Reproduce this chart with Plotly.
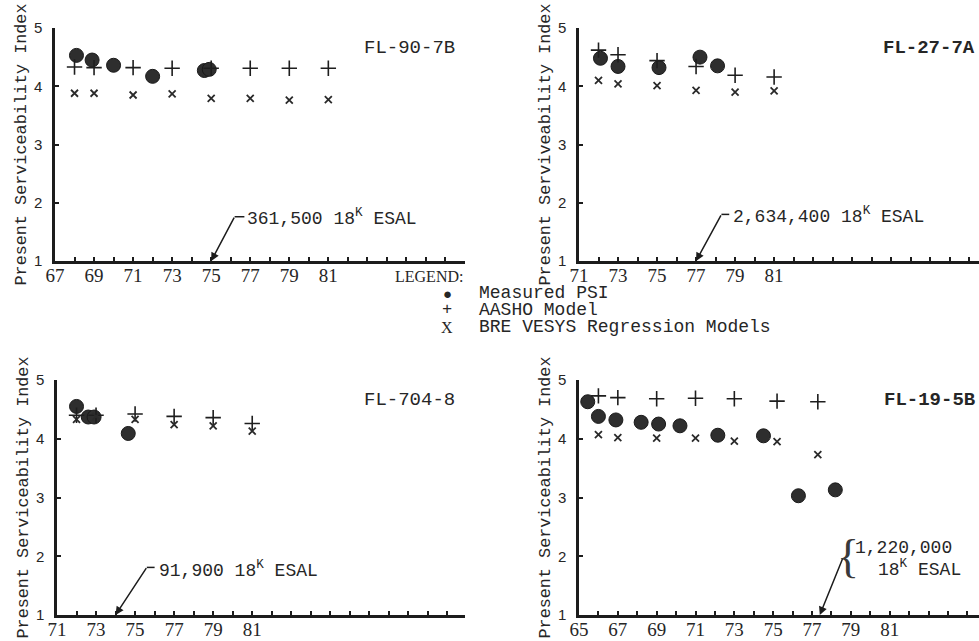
import plotly.graph_objects as go

# ---------------- data ----------------
# Panel 1: FL-90-7B
p1_meas_year = [68.1, 68.9, 70.0, 72.0, 74.65, 74.9]
p1_meas_psi = [4.53, 4.45, 4.36, 4.17, 4.27, 4.29]
p1_model_year = [68, 69, 71, 73, 75, 77, 79, 81]
p1_aasho = [4.33, 4.32, 4.32, 4.31, 4.31, 4.31, 4.31, 4.31]
p1_bre = [3.88, 3.88, 3.85, 3.87, 3.79, 3.79, 3.76, 3.77]

# Panel 2: FL-27-7A
p2_meas_year = [72.1, 73.0, 75.1, 77.2, 78.1]
p2_meas_psi = [4.48, 4.34, 4.32, 4.50, 4.35]
p2_model_year = [72, 73, 75, 77, 79, 81]
p2_aasho = [4.62, 4.54, 4.44, 4.34, 4.19, 4.16]
p2_bre = [4.10, 4.04, 4.01, 3.93, 3.90, 3.92]

# Panel 3: FL-704-8
p3_meas_year = [72.0, 72.6, 72.9, 74.65]
p3_meas_psi = [4.55, 4.37, 4.37, 4.09]
p3_model_year = [72, 73, 75, 77, 79, 81]
p3_aasho = [4.40, 4.40, 4.42, 4.38, 4.36, 4.26]
p3_bre = [4.33, 4.38, 4.33, 4.24, 4.22, 4.13]

# Panel 4: FL-19-5B
p4_meas_year = [65.45, 66.0, 66.9, 68.2, 69.1, 70.2, 72.15, 74.5, 76.3, 78.2]
p4_meas_psi = [4.63, 4.38, 4.32, 4.28, 4.25, 4.22, 4.06, 4.05, 3.03, 3.13]
p4_model_year = [66, 67, 69, 71, 73, 75.2, 77.3]
p4_aasho = [4.73, 4.70, 4.68, 4.69, 4.68, 4.64, 4.63]
p4_bre = [4.07, 4.02, 4.01, 4.01, 3.96, 3.95, 3.73]

panel_names = ["FL-90-7B", "FL-27-7A", "FL-704-8", "FL-19-5B"]
y_titles = ["Present Serviceability Index", "Present Serviveability Index",
            "Present Serviceability Index", "Present Serviceability Index"]
x_ticks = [[67, 69, 71, 73, 75, 77, 79, 81],
           [71, 73, 75, 77, 79, 81],
           [71, 73, 75, 77, 79, 81],
           [65, 67, 69, 71, 73, 75, 77, 79, 81]]
y_ticks = [1, 2, 3, 4, 5]
esal_labels = ["361,500 18<sup>K</sup> ESAL", "2,634,400 18<sup>K</sup> ESAL",
               "91,900 18<sup>K</sup> ESAL"]
esal4_line1 = "1,220,000"
esal4_line2 = "18<sup>K</sup> ESAL"
legend_labels = ["Measured PSI", "AASHO Model", "BRE VESYS Regression Models"]
legend_symbols = ["\u25cf", "+", "X"]

# ---------------- figure ----------------
W, H = 979, 641
INK = "#1c1c1c"
TXT = "#262626"
MONO = "Liberation Mono, Courier New, monospace"
SERIF = "Liberation Serif, Times New Roman, serif"
SANS = "Liberation Sans, Arial, sans-serif"

fig = go.Figure()

panels = [
    (p1_meas_year, p1_meas_psi, p1_model_year, p1_aasho, p1_bre),
    (p2_meas_year, p2_meas_psi, p2_model_year, p2_aasho, p2_bre),
    (p3_meas_year, p3_meas_psi, p3_model_year, p3_aasho, p3_bre),
    (p4_meas_year, p4_meas_psi, p4_model_year, p4_aasho, p4_bre),
]

# pixel layout of the four plot areas
x_px = [(55, 465), (579, 979), (57, 465), (579, 979)]
y_px = [(28, 261), (28, 261), (380, 615), (380, 615)]
x_ranges = [[67, 88.0], [71, 91.5], [71, 91.9], [65, 85.6]]

for i, (my, mp, yy, aa, bb) in enumerate(panels):
    n = i + 1
    xa = "x" if n == 1 else f"x{n}"
    ya = "y" if n == 1 else f"y{n}"
    fig.add_trace(go.Scatter(x=my, y=mp, mode="markers", xaxis=xa, yaxis=ya,
                             marker=dict(symbol="circle", size=14, color="#2e2e2e",
                                         line=dict(width=1, color="#1a1a1a")),
                             name=legend_labels[0], showlegend=False, cliponaxis=False))
    fig.add_trace(go.Scatter(x=yy, y=aa, mode="markers", xaxis=xa, yaxis=ya,
                             marker=dict(symbol="cross-thin", size=11,
                                         line=dict(width=1.6, color="#1e1e1e")),
                             name=legend_labels[1], showlegend=False, cliponaxis=False))
    fig.add_trace(go.Scatter(x=yy, y=bb, mode="markers", xaxis=xa, yaxis=ya,
                             marker=dict(symbol="x-thin", size=7,
                                         line=dict(width=1.8, color="#2a2a2a")),
                             name=legend_labels[2], showlegend=False, cliponaxis=False))

layout = dict(width=W, height=H, margin=dict(l=0, r=0, t=0, b=0, autoexpand=False),
              paper_bgcolor="white", plot_bgcolor="white", showlegend=False)

for i in range(4):
    n = i + 1
    suffix = "" if n == 1 else str(n)
    x0, x1 = x_px[i]
    yt, yb = y_px[i]
    layout["xaxis" + suffix] = dict(
        domain=[x0 / W, x1 / W], range=x_ranges[i], anchor="y" + suffix,
        automargin=False,
        showline=True, linewidth=2.5, linecolor=INK, showgrid=False, zeroline=False,
        ticks="inside", ticklen=4, tickwidth=1.6, tickcolor=INK,
        tickmode="array", tickvals=x_ticks[i], ticktext=[str(v) for v in x_ticks[i]],
        tickfont=dict(family=SERIF, size=19, color=TXT), ticklabelstandoff=-5,
        minor=dict(ticks="inside", tickmode="linear", tick0=x_ranges[i][0], dtick=1,
                   ticklen=4, tickwidth=1.6, tickcolor=INK, showgrid=False),
        fixedrange=True)
    layout["yaxis" + suffix] = dict(
        domain=[1 - yb / H, 1 - yt / H], range=[1, 5], anchor="x" + suffix,
        automargin=False,
        showline=True, linewidth=2.5, linecolor=INK, showgrid=False, zeroline=False,
        ticks="inside", ticklen=4, tickwidth=1.6, tickcolor=INK,
        tickmode="array", tickvals=y_ticks, ticktext=[str(v) for v in y_ticks],
        tickfont=dict(family=SANS, size=15, color=TXT), ticklabelstandoff=7,
        title=dict(text=y_titles[i], font=dict(family=MONO, size=16.8, color=TXT),
                   standoff=4),
        fixedrange=True)

fig.update_layout(**layout)

ann = []
# panel name labels
ann.append(dict(xref="x", yref="y", x=87.6, y=4.66, text=panel_names[0], showarrow=False,
                xanchor="right", yanchor="middle", font=dict(family=MONO, size=19, color=TXT)))
ann.append(dict(xref="x2", yref="y2", x=86.5, y=4.66, text="<b>" + panel_names[1] + "</b>",
                showarrow=False, xanchor="left", yanchor="middle",
                font=dict(family=MONO, size=19, color=TXT)))
ann.append(dict(xref="x3", yref="y3", x=91.5, y=4.66, text=panel_names[2], showarrow=False,
                xanchor="right", yanchor="middle", font=dict(family=MONO, size=19, color=TXT)))
ann.append(dict(xref="x4", yref="y4", x=80.6, y=4.66, text="<b>" + panel_names[3] + "</b>",
                showarrow=False, xanchor="left", yanchor="middle",
                font=dict(family=MONO, size=19, color=TXT)))

ARROW_TXT = dict(text="\u00a0", font=dict(size=1, color="white"), borderpad=0)

# ESAL leader arrows: (axis suffix, tip year, tail year, tail psi, dash end, text x, text y)
leaders = [("", 75.0, 76.2, 1.76, 76.7, 76.75, 1.75, esal_labels[0]),
           ("2", 77.0, 78.3, 1.80, 78.7, 78.8, 1.78, esal_labels[1]),
           ("3", 74.0, 75.6, 1.81, 76.0, 76.1, 1.78, esal_labels[2])]
shapes = []
for sfx, tip, tx, ty, dash_end, lx, ly, label in leaders:
    ann.append(dict(xref="x" + sfx, yref="y" + sfx, x=tip, y=1.0, ax=tx, ay=ty,
                    axref="x" + sfx, ayref="y" + sfx, showarrow=True,
                    arrowhead=2, arrowsize=1.1, arrowwidth=1.5, arrowcolor=INK, standoff=0,
                    **ARROW_TXT))
    shapes.append(dict(type="line", xref="x" + sfx, yref="y" + sfx, x0=tx, y0=ty,
                       x1=dash_end, y1=ty, line=dict(color=INK, width=1.5)))
    ann.append(dict(xref="x" + sfx, yref="y" + sfx, x=lx, y=ly, text=label, showarrow=False,
                    xanchor="left", yanchor="middle", font=dict(family=MONO, size=18, color=TXT)))

# panel 4 leader with brace
ann.append(dict(xref="x4", yref="y4", x=77.4, y=1.0, ax=78.6, ay=1.98, axref="x4", ayref="y4",
                showarrow=True, arrowhead=2, arrowsize=1.1, arrowwidth=1.5,
                arrowcolor=INK, standoff=0, **ARROW_TXT))
ann.append(dict(xref="x4", yref="y4", x=78.85, y=2.0, text="{", showarrow=False,
                xanchor="center", yanchor="middle",
                font=dict(family=SERIF, size=46, color="#3a3a3a")))
ann.append(dict(xref="x4", yref="y4", x=79.12, y=2.14, text=esal4_line1, showarrow=False,
                xanchor="left", yanchor="middle", font=dict(family=MONO, size=18, color=TXT)))
ann.append(dict(xref="x4", yref="y4", x=80.3, y=1.80, text=esal4_line2, showarrow=False,
                xanchor="left", yanchor="middle", font=dict(family=MONO, size=18, color=TXT)))

# legend block
ann.append(dict(xref="paper", yref="paper", x=393 / W, y=1 - 277 / H, text="LEGEND:",
                showarrow=False, xanchor="left", yanchor="middle",
                font=dict(family=SERIF, size=16, color=TXT)))
leg_rows = [293, 310, 327]
leg_sym_sizes = [15, 17, 16]
leg_sym_fonts = [SANS, MONO, SERIF]
for k in range(3):
    ann.append(dict(xref="paper", yref="paper", x=447 / W, y=1 - leg_rows[k] / H,
                    text=legend_symbols[k], showarrow=False, xanchor="center", yanchor="middle",
                    font=dict(family=leg_sym_fonts[k], size=leg_sym_sizes[k], color=TXT)))
    ann.append(dict(xref="paper", yref="paper", x=477 / W, y=1 - leg_rows[k] / H,
                    text=legend_labels[k], showarrow=False, xanchor="left", yanchor="middle",
                    font=dict(family=MONO, size=18, color=TXT)))

fig.update_layout(annotations=ann, shapes=shapes)
fig.write_html("out.html", config={"displayModeBar": False},
               post_script="document.body.style.margin='0';document.body.style.overflow='hidden';")
